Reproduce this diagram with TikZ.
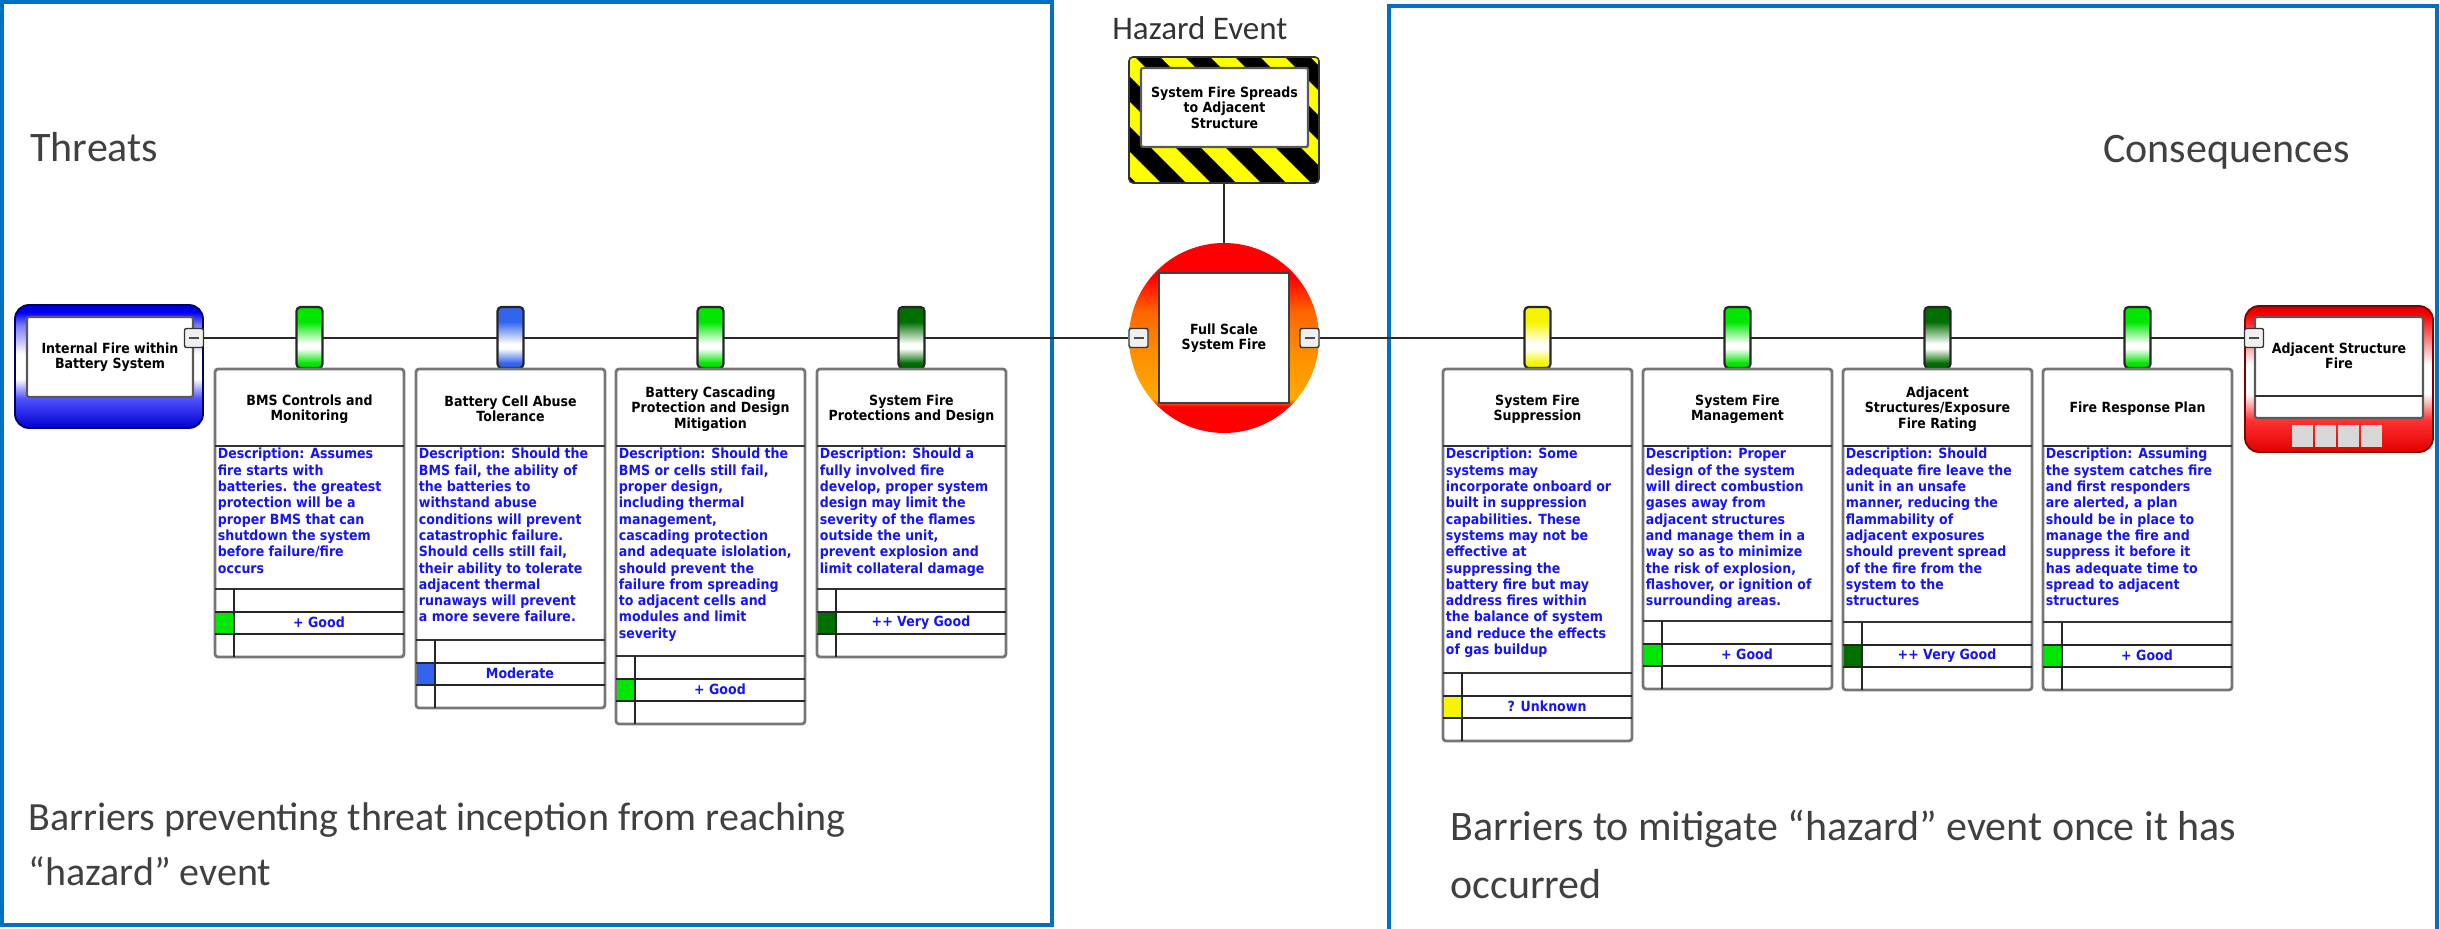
\documentclass[tikz,border=0pt]{standalone}
\usepackage{fontspec}
\setmainfont{Carlito}
\newfontfamily\cardfont[FakeStretch=0.9]{DejaVu Sans}

% one drawing unit = one pixel of the 2440 x 929 sheet
\newcommand\pxu{0.5pt}

\definecolor{zoneblue}{RGB}{0,112,192}
\definecolor{labelgray}{RGB}{64,64,64}
\definecolor{linegray}{RGB}{40,40,40}
\definecolor{cardgray}{RGB}{118,118,118}
\definecolor{descblue}{RGB}{20,20,245}
\definecolor{ratinggreen}{RGB}{0,230,0}
\definecolor{ratingblue}{RGB}{50,100,240}
\definecolor{ratingdark}{RGB}{0,110,0}
\definecolor{ratingyellow}{RGB}{245,245,0}
\definecolor{hazardyellow}{RGB}{255,255,0}
\definecolor{squaregray}{RGB}{215,215,215}

% barrier pegs: colour at both ends, white band below the middle
\newcommand\pegshading[1]{\pgfdeclareverticalshading{peg-#1}{100bp}{color(0bp)=(#1); color(29bp)=(#1); color(41bp)=(white); color(45bp)=(white); color(63bp)=(#1); color(100bp)=(#1)}}
\pegshading{ratinggreen}
\pegshading{ratingblue}
\pegshading{ratingdark}
\pegshading{ratingyellow}

\pgfdeclareverticalshading{threat-shade}{100bp}{color(0bp)=(rgb,255:red,0;green,0;blue,210); color(25bp)=(rgb,255:red,0;green,0;blue,210); color(37bp)=(rgb,255:red,80;green,80;blue,255); color(45bp)=(white); color(55bp)=(white); color(67bp)=(rgb,255:red,120;green,120;blue,255); color(72bp)=(rgb,255:red,0;green,0;blue,255); color(75bp)=(rgb,255:red,0;green,0;blue,200); color(100bp)=(rgb,255:red,0;green,0;blue,200)}
\pgfdeclareverticalshading{cons-shade}{100bp}{color(0bp)=(rgb,255:red,225;green,0;blue,0); color(25bp)=(rgb,255:red,225;green,0;blue,0); color(36bp)=(rgb,255:red,255;green,50;blue,50); color(45bp)=(white); color(55bp)=(white); color(66bp)=(rgb,255:red,255;green,90;blue,90); color(72bp)=(rgb,255:red,255;green,0;blue,0); color(75bp)=(rgb,255:red,210;green,0;blue,0); color(100bp)=(rgb,255:red,210;green,0;blue,0)}
\pgfdeclareverticalshading{fire-shade}{100bp}{color(0bp)=(rgb,255:red,255;green,0;blue,0); color(32bp)=(rgb,255:red,255;green,0;blue,0); color(34bp)=(rgb,255:red,255;green,170;blue,0); color(47bp)=(rgb,255:red,255;green,140;blue,0); color(57bp)=(rgb,255:red,255;green,100;blue,0); color(66bp)=(rgb,255:red,255;green,0;blue,0); color(100bp)=(rgb,255:red,255;green,0;blue,0)}

\tikzset{
  zoneframe/.style={draw=zoneblue, line width=1.8pt},
  sidetext/.style={text=labelgray, inner sep=0, anchor=base west, font=\fontsize{21pt}{27.5pt}\selectfont},
  mainline/.style={draw=linegray, line width=1.1pt},
  minusbox/.style={draw=black!80, fill=gray!12, line width=0.7pt, rounded corners=1pt,
    minimum width=19*\pxu, minimum height=19*\pxu, inner sep=0,
    path picture={\draw[line width=0.7pt, black!70]
      ([xshift=-2.5pt]path picture bounding box.center) -- ([xshift=2.5pt]path picture bounding box.center);}},
  pegbox/.style={draw=black!85, line width=1.1pt, rounded corners=2pt,
    minimum width=26*\pxu, minimum height=61*\pxu, inner sep=0, shade},
  cardbox/.style={draw=cardgray, fill=white, line width=1.4pt, rounded corners=1.5pt,
    minimum width=189*\pxu, inner sep=0},
  rulethick/.style={draw=black!80, line width=1.2pt},
  rulethin/.style={draw=black!85, line width=0.9pt},
  eventtext/.style={font=\cardfont\bfseries\fontsize{7pt}{7.7pt}\selectfont, align=center, text=black},
  cardtitle/.style={eventtext, inner sep=0},
  carddesc/.style={font=\cardfont\bfseries\fontsize{7pt}{8.15pt}\selectfont, text=descblue, inner sep=0, anchor=base west},
  cardrate/.style={font=\cardfont\bfseries\fontsize{7pt}{8pt}\selectfont, text=descblue, inner sep=0},
  innerwhite/.style={draw=black!65, line width=1.1pt, fill=white, rounded corners=1pt, inner sep=0},
  eventbox/.style={draw=black!80, line width=0.9pt, rounded corners=7pt, inner sep=0,
    minimum width=188*\pxu, shade},
}

% barrier card: name, left x, bottom y, title, description, rating colour, rating text
\newcommand\barrier[7]{%
  \pgfmathsetmacro\bL{#2}%
  \pgfmathsetmacro\bR{#2+189}%
  \pgfmathsetmacro\bM{#2+94.5}%
  \pgfmathsetmacro\bB{#3}%
  \pgfmathsetmacro\bD{#3-68}%
  \pgfmathsetmacro\bE{#3-45.3}%
  \pgfmathsetmacro\bF{#3-22.7}%
  \pgfmathsetmacro\bH{#3-369}%
  \pgfmathsetmacro\bC{(#3+369)/2}%
  \pgfmathsetmacro\bK{#2+19}%
  \pgfmathsetmacro\bT{(#2+19+#2+189)/2}%
  \pgfmathsetmacro\bY{#3-34.5}%
  \node[pegbox, shading=peg-#6] (#1peg) at (\bM,337.5) {};
  \node[cardbox, minimum height=\bH*\pxu] (#1) at (\bM,\bC) {};
  \fill[#6] (\bL+0.7,\bE) rectangle (\bK,\bF);
  \draw[rulethick] (\bL,446) -- (\bR,446) (\bL,\bD) -- (\bR,\bD);
  \draw[rulethin] (\bL,\bE) -- (\bR,\bE) (\bL,\bF) -- (\bR,\bF) (\bK,\bD) -- (\bK,\bB);
  \node[cardtitle] (#1title) at (\bM,409) {#4};
  \node[carddesc] (#1desc) at (\bL+2.5,459) {\parbox[t]{90pt}{\raggedright #5}};
  \node[cardrate] (#1rate) at (\bT,\bY) {#7};
}

\begin{document}
\begin{tikzpicture}[x=0.5pt,y=-0.5pt]
\useasboundingbox (0,0) rectangle (2440,929);

% the two zones
\draw[zoneframe] (2,2) rectangle (1052,925);
\draw[zoneframe] (1389,6) rectangle (2437,960);

% zone captions
\node[sidetext] (threats) at (30,162) {Threats};
\node[sidetext] (consequences) at (2103,163) {Consequences};
\node[sidetext, text=black!80, font=\fontsize{16.5pt}{20pt}\selectfont] (hazardlabel) at (1112,40) {Hazard Event};
\node[sidetext, font=\fontsize{20pt}{27.5pt}\selectfont] (prevent) at (28,830)
  {\parbox[t]{500pt}{Barriers preventing threat inception from reaching\\“hazard” event}};
\node[sidetext, font=\fontsize{21pt}{29pt}\selectfont] (mitigate) at (1450,840)
  {\parbox[t]{500pt}{Barriers to mitigate “hazard” event once it has\\occurred}};

% hazard: striped frame
\begin{scope}
  \clip[rounded corners=2pt] (1129,57) rectangle (1319,183);
  \fill[hazardyellow] (1129,57) rectangle (1319,183);
  \foreach \k in {-3,...,4}
    \fill[black] ({1135+50*\k},57) -- ++(25,0) -- ++(126,126) -- ++(-25,0) -- cycle;
\end{scope}
\node[draw=black!80, line width=0.8pt, rounded corners=2pt, minimum width=190*\pxu,
  minimum height=126*\pxu, inner sep=0] (hazard) at (1224,120) {};
\node[innerwhite, eventtext, minimum width=167*\pxu, minimum height=79*\pxu] (hazardin)
  at (1224.5,107.5) {System Fire Spreads\\to Adjacent\\Structure};

% top event
\node[circle, shade, shading=fire-shade, minimum size=190*\pxu, inner sep=0] (topevent) at (1224,338) {};
\node[draw=black!75, line width=1.1pt, fill=white, minimum size=130*\pxu, inner sep=0, eventtext]
  (topin) at (1224,338) {Full Scale\\System Fire};
\node[minusbox] (topL) at (1138.5,338) {};
\node[minusbox] (topR) at (1309.5,338) {};

% threat
\node[eventbox, shading=threat-shade, draw=black!60!blue, minimum height=123*\pxu] (threat) at (109,366.5) {};
\node[innerwhite, eventtext, minimum width=166*\pxu, minimum height=80*\pxu] (threatin)
  at (110,357) {Internal Fire within\\Battery System};
\node[minusbox] (threatminus) at (194,338) {};

% consequence
\node[eventbox, shading=cons-shade, draw=black!50!red, minimum height=146*\pxu] (cons) at (2339,379) {};
\node[innerwhite, minimum width=168*\pxu, minimum height=101*\pxu] (consin) at (2339,367.5) {};
\draw[rulethick] (2255,396) -- (2423,396);
\node[eventtext, inner sep=0] (constext) at (2339,356) {Adjacent Structure\\Fire};
\foreach \i in {0,...,3}
  \fill[squaregray] ({2292+23*\i},425) rectangle ++(21,22);
\node[minusbox] (consminus) at (2254,338) {};

% connectors
\draw[mainline] (hazard.south) -- (topevent.north);
\draw[mainline] (threatminus.east) -- (topL.west);
\draw[mainline] (topR.east) -- (consminus.west);

% preventive barriers
\barrier{bA}{215}{657}{BMS Controls and\\Monitoring}
 {Description: Assumes\\fire starts with\\batteries. the greatest\\protection will be a\\proper BMS that can\\shutdown the system\\before failure/fire\\occurs}
 {ratinggreen}{+ Good}
\barrier{bB}{416}{708}{Battery Cell Abuse\\Tolerance}
 {Description: Should the\\BMS fail, the ability of\\the batteries to\\withstand abuse\\conditions will prevent\\catastrophic failure.\\Should cells still fail,\\their ability to tolerate\\adjacent thermal\\runaways will prevent\\a more severe failure.}
 {ratingblue}{Moderate}
\barrier{bC}{616}{724}{Battery Cascading\\Protection and Design\\Mitigation}
 {Description: Should the\\BMS or cells still fail,\\proper design,\\including thermal\\management,\\cascading protection\\and adequate islolation,\\should prevent the\\failure from spreading\\to adjacent cells and\\modules and limit\\severity}
 {ratinggreen}{+ Good}
\barrier{bD}{817}{657}{System Fire\\Protections and Design}
 {Description: Should a\\fully involved fire\\develop, proper system\\design may limit the\\severity of the flames\\outside the unit,\\prevent explosion and\\limit collateral damage}
 {ratingdark}{++ Very Good}

% mitigating barriers
\barrier{bE}{1443}{741}{System Fire\\Suppression}
 {Description: Some\\systems may\\incorporate onboard or\\built in suppression\\capabilities. These\\systems may not be\\effective at\\suppressing the\\battery fire but may\\address fires within\\the balance of system\\and reduce the effects\\of gas buildup}
 {ratingyellow}{? Unknown}
\barrier{bF}{1643}{689}{System Fire\\Management}
 {Description: Proper\\design of the system\\will direct combustion\\gases away from\\adjacent structures\\and manage them in a\\way so as to minimize\\the risk of explosion,\\flashover, or ignition of\\surrounding areas.}
 {ratinggreen}{+ Good}
\barrier{bG}{1843}{690}{Adjacent\\Structures/Exposure\\Fire Rating}
 {Description: Should\\adequate fire leave the\\unit in an unsafe\\manner, reducing the\\flammability of\\adjacent exposures\\should prevent spread\\of the fire from the\\system to the\\structures}
 {ratingdark}{++ Very Good}
\barrier{bH}{2043}{690}{Fire Response Plan}
 {Description: Assuming\\the system catches fire\\and first responders\\are alerted, a plan\\should be in place to\\manage the fire and\\suppress it before it\\has adequate time to\\spread to adjacent\\structures}
 {ratinggreen}{+ Good}

\end{tikzpicture}
\end{document}
